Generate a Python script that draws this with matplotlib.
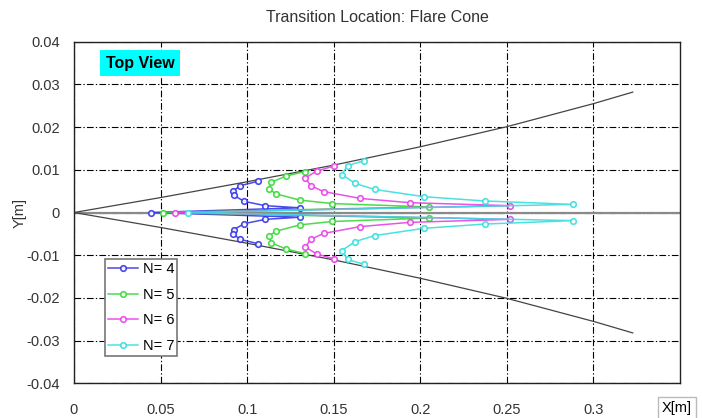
import matplotlib
matplotlib.use("Agg")
import matplotlib.pyplot as plt
import numpy as np

plt.rcParams['font.family'] = ['Liberation Sans', 'DejaVu Sans']

# flare cone outline (upper edge), mirrored below
cone_x = [0, 0.05, 0.1, 0.15, 0.2, 0.25, 0.3, 0.3227]
cone_r = [0, 0.0035, 0.0072, 0.0111, 0.0154, 0.0201, 0.0255, 0.0282]

# transition fronts, upper branch from cone surface inward, then nose point on axis
n4_x = [0.1062, 0.0961, 0.0917, 0.0923, 0.0984, 0.1105, 0.1304]
n4_y = [0.0073, 0.0063, 0.0050, 0.0040, 0.0026, 0.0016, 0.0011]
n4_nose = 0.0444

n5_x = [0.1333, 0.1222, 0.1140, 0.1127, 0.1165, 0.1304, 0.1492, 0.2050]
n5_y = [0.0096, 0.0085, 0.0071, 0.0055, 0.0044, 0.0029, 0.0021, 0.0013]
n5_nose = 0.0513

n6_x = [0.1502, 0.1401, 0.1337, 0.1366, 0.1442, 0.1653, 0.1940, 0.2516]
n6_y = [0.0109, 0.0097, 0.0081, 0.0063, 0.0049, 0.0033, 0.0023, 0.0016]
n6_nose = 0.0585

n7_x = [0.1673, 0.1580, 0.1547, 0.1624, 0.1737, 0.2021, 0.2374, 0.2880]
n7_y = [0.0121, 0.0110, 0.0089, 0.0068, 0.0054, 0.0037, 0.0027, 0.0019]
n7_nose = 0.0657

series = [("N= 4", n4_x, n4_y, n4_nose, "#3535e8"),
          ("N= 5", n5_x, n5_y, n5_nose, "#38d838"),
          ("N= 6", n6_x, n6_y, n6_nose, "#e840e8"),
          ("N= 7", n7_x, n7_y, n7_nose, "#38dede")]

fig = plt.figure(figsize=(7.02, 4.18), dpi=100)
ax = fig.add_axes([0.1054, 0.083, 0.8633, 0.8172])

ax.plot([0, 0.35], [0, 0], color="#8a8a8a", lw=1.6, zorder=2)
ax.plot(cone_x, cone_r, color="#444444", lw=0.9, zorder=2)
ax.plot(cone_x, [-r for r in cone_r], color="#444444", lw=0.9, zorder=2)

for label, xs, ys, nose, col in series:
    px = list(xs) + [nose] + list(xs[::-1])
    py = list(ys) + [0] + [-v for v in ys[::-1]]
    ax.plot(px, py, color=col, lw=1.1, marker="o", ms=4, mfc="white",
            mec=col, mew=1.2, label=label, zorder=3, alpha=0.9)

ax.set_xlim(0, 0.35)
ax.set_ylim(-0.04, 0.04)
ax.set_xticks([0, 0.05, 0.1, 0.15, 0.2, 0.25, 0.3])
ax.set_xticklabels(["0", "0.05", "0.1", "0.15", "0.2", "0.25", "0.3"])
yt = [-0.04, -0.03, -0.02, -0.01, 0, 0.01, 0.02, 0.03, 0.04]
ax.set_yticks(yt)
ax.set_yticklabels(["-0.04", "-0.03", "-0.02", "-0.01", "0", "0.01", "0.02", "0.03", "0.04"])
ax.tick_params(length=0, labelsize=10.5, colors="#333333")
ax.tick_params(axis="x", pad=14)
ax.tick_params(axis="y", pad=10)
ax.grid(True, color="black", lw=0.8, linestyle=(0, (6, 2, 1.2, 2)), zorder=1)
for s in ax.spines.values():
    s.set_color("#222222")
    s.set_linewidth(1.0)

ax.set_title("Transition Location: Flare Cone", fontsize=11.5, color="#333333", pad=14)
ax.set_ylabel("Y[m]", fontsize=10.5, color="#333333", labelpad=0)

ax.text(0.109, 0.937, "Top View", transform=ax.transAxes, fontsize=11.5,
        fontweight="bold", ha="center", va="center", zorder=5,
        bbox=dict(boxstyle="square,pad=0.35", fc="#00ffff", ec="none"))

leg = ax.legend(loc="lower left", bbox_to_anchor=(0.051, 0.08), fontsize=10.5,
                handlelength=2.1, borderpad=0.2, labelspacing=0.8,
                handletextpad=0.3, fancybox=False, framealpha=1,
                edgecolor="#777777", borderaxespad=0)
leg.get_frame().set_linewidth(1.2)

fig.text(0.9645, 0.024, "X[m]", fontsize=10.5, ha="center", va="center",
         bbox=dict(boxstyle="square,pad=0.25", fc="white", ec="#bbbbbb"))

fig.savefig("out.png", dpi=100)
